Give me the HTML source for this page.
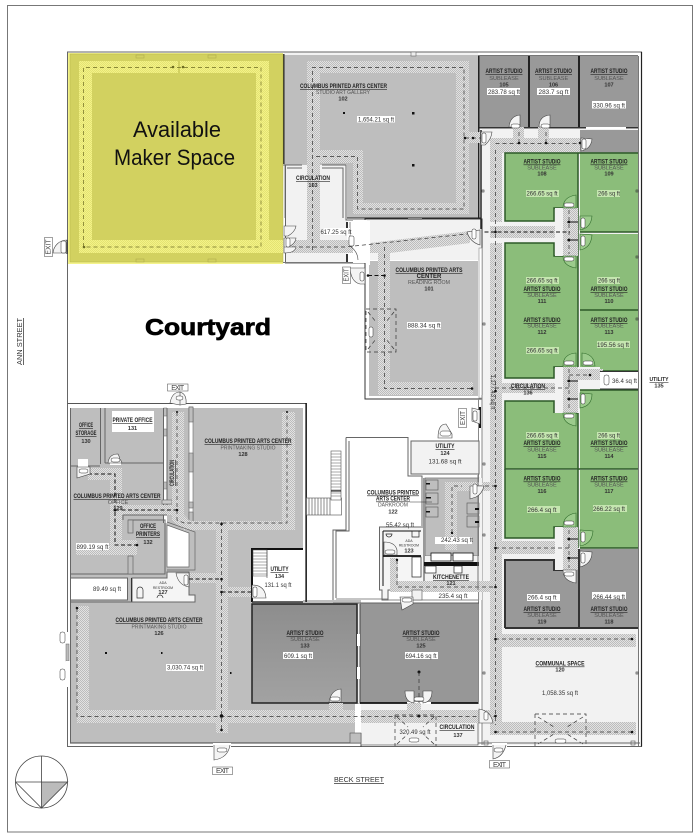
<!DOCTYPE html>
<html><head><meta charset="utf-8"><style>
html,body{margin:0;padding:0;background:#fff}
svg{display:block}
text{font-family:"Liberation Sans",sans-serif;fill:#222}
.t{font-size:6px;text-anchor:middle;text-decoration:underline;font-weight:bold;fill:#222}
.s{font-size:5.6px;text-anchor:middle;fill:#555}
.n{font-size:5.6px;text-anchor:middle;font-weight:bold;fill:#333}
.a{font-size:6.6px;text-anchor:middle;fill:#333}
.x{font-size:7px;text-anchor:middle;fill:#444}
.tiny{font-size:3.5px;text-anchor:middle;fill:#333}
.w{fill:none;stroke:#666;stroke-width:1}
.d{fill:none;stroke:#333;stroke-width:.7;stroke-dasharray:4 3}
.dd{fill:none;stroke:#111;stroke-width:1;stroke-dasharray:4 2.5}
.door{fill:#f4f4f4;stroke:#444;stroke-width:.6}
.doorg{fill:#9ccb8c;stroke:#2f6b2a;stroke-width:.6}
.lbl{fill:#fff;stroke:#444;stroke-width:.5}
</style></head><body>
<svg width="699" height="838" viewBox="0 0 699 838" xmlns="http://www.w3.org/2000/svg">
<defs>
<pattern id="h" width="2" height="2" patternUnits="userSpaceOnUse"><rect width="2" height="2" fill="#e2e2e2"/><rect width="1" height="1" fill="#bcbcbc"/><rect x="1" y="1" width="1" height="1" fill="#bcbcbc"/></pattern>
<pattern id="y" width="2" height="2" patternUnits="userSpaceOnUse"><rect width="2" height="2" fill="#f3f288"/><rect width="1" height="1" fill="#e4e372"/><rect x="1" y="1" width="1" height="1" fill="#e4e372"/></pattern>
<linearGradient id="gr" x1="0" y1="0" x2="0" y2="1"><stop offset="0" stop-color="#8d8d8d"/><stop offset="1" stop-color="#a2a2a2"/></linearGradient>
</defs>
<rect width="699" height="838" fill="#fff"/>
<rect x="7.500" y="5.500" width="685" height="826.500" fill="none" stroke="#777" stroke-width="1"/>

<!-- building envelope -->
<path d="M67.500 52H641.500V746.500H67.500Z" fill="#fff" stroke="#666" stroke-width="1"/>
<path d="M641.500 52V746.500" stroke="#222" stroke-width="1.200"/>

<!-- gallery 102 -->
<rect x="284" y="55" width="194" height="163" fill="#bebebe"/>
<path d="M307 61H469V214H353V163H307ZM320 73V150H363V203H456V73Z" fill="url(#h)" fill-rule="evenodd"/>
<rect x="284" y="52" width="194" height="3" fill="#f2f2f2"/>
<path d="M284 52H478" stroke="#666"/>
<rect x="411" y="52" width="5" height="4" fill="#eee" stroke="#666" stroke-width=".6"/>
<rect x="285" y="165" width="62" height="98" fill="#f2f2f2"/>
<rect x="307" y="163" width="13" height="90" fill="url(#h)"/>
<rect x="285" y="240" width="68" height="13" fill="url(#h)"/>
<path d="M346 165V220H365" class="w"/>
<path d="M283 165H302M322 165H346M287 168H302M322 168H343V218" class="w"/>
<path d="M285.500 165V263H365" class="w"/>
<path d="M283 262.500H365" stroke="#777" fill="none"/>
<rect x="283" y="54" width="1.500" height="110" fill="#222"/>
<path d="M312.500 250V67.500H464V209H357.500V156.500H315" class="d"/>
<g fill="#111"><rect x="343" y="112" width="2" height="2"/><rect x="412" y="112" width="2.500" height="2.500"/><rect x="412" y="164" width="2.500" height="2.500"/></g>

<!-- yellow maker space -->
<rect x="68" y="53" width="215" height="211" fill="#f4f38a"/>
<rect x="70" y="54" width="213" height="208" fill="#d2d160" stroke="#b5b44a" stroke-width=".5"/>
<path d="M79 61H269V253H79Z" fill="url(#y)"/>
<rect x="269" y="240" width="14" height="13" fill="url(#y)"/>
<rect x="92" y="73" width="164" height="167" fill="#d2d160"/>
<rect x="178" y="61" width="2" height="12" fill="#d2d160"/>
<rect x="136" y="55" width="8" height="3" fill="#d2d160" stroke="#a8a74a" stroke-width=".5"/>
<rect x="208" y="55" width="8" height="3" fill="#d2d160" stroke="#a8a74a" stroke-width=".5"/>
<rect x="136" y="259" width="8" height="3" fill="#d2d160" stroke="#a8a74a" stroke-width=".5"/>
<rect x="208" y="259" width="8" height="3" fill="#d2d160" stroke="#a8a74a" stroke-width=".5"/>
<path d="M83.500 247V67.500H261V247H83.500" fill="none" stroke="#6d6c22" stroke-width=".7" stroke-dasharray="4 3"/>
<circle cx="173" cy="67" r="1.300" fill="#6d6c22"/><circle cx="183" cy="67" r="1.300" fill="#6d6c22"/><circle cx="84" cy="247" r="1.300" fill="#6d6c22"/>
<text x="177" y="137" font-size="22" text-anchor="middle" textLength="88" lengthAdjust="spacingAndGlyphs" style="fill:#111">Available</text>
<text x="174.500" y="165" font-size="22" text-anchor="middle" textLength="121" lengthAdjust="spacingAndGlyphs" style="fill:#111">Maker Space</text>
<rect x="283" y="226" width="5" height="10" fill="#fff"/>

<!-- right corridor base -->
<rect x="482" y="129" width="156" height="616" fill="#f2f2f2"/>
<rect x="479" y="56" width="159" height="72" fill="#999"/>
<rect x="528" y="55" width="2" height="73" fill="#222"/><rect x="578" y="55" width="2" height="73" fill="#222"/>
<rect x="479" y="127" width="159" height="1.500" fill="#333"/>
<rect x="586" y="127" width="40" height="2" fill="#fff"/>
<rect x="580" y="130" width="58" height="24" fill="#999"/>
<rect x="478" y="55" width="1.500" height="170" fill="#222"/>
<rect x="478" y="55" width="160" height="1" fill="#777"/>
<rect x="638" y="56" width="1" height="690" fill="#777"/>

<!-- central walkway -->
<rect x="490" y="143" width="12" height="592" fill="url(#h)"/>
<rect x="490" y="138" width="90" height="15" fill="url(#h)"/>
<rect x="465" y="132" width="16" height="11" fill="url(#h)"/>
<rect x="488" y="222" width="90" height="21" fill="#f2f2f2"/>
<rect x="490" y="226" width="75" height="12" fill="url(#h)"/>
<rect x="490" y="383" width="75" height="10" fill="url(#h)"/>
<rect x="490" y="541" width="75" height="13" fill="url(#h)"/>
<rect x="490" y="634" width="146" height="13" fill="url(#h)"/>
<rect x="490" y="722" width="146" height="13" fill="url(#h)"/>
<rect x="513" y="127" width="11" height="16" fill="url(#h)"/>
<rect x="538" y="127" width="11" height="16" fill="url(#h)"/>

<!-- green rooms -->
<g fill="#8bbd7a">
<path d="M505 153H578V208H554V221H505Z"/>
<rect x="580" y="153" width="58" height="79"/>
<path d="M505 243H554V256H578V310H505Z"/>
<rect x="580" y="234" width="58" height="76"/>
<path d="M505 310H578V367H554V378H505Z"/>
<rect x="580" y="310" width="58" height="61"/>
<path d="M505 401H554V413H578V469H505Z"/>
<rect x="580" y="390" width="58" height="79"/>
<path d="M505 470H578V527H554V538H505Z"/>
<rect x="580" y="470" width="58" height="78"/>
</g>
<g fill="#999">
<path d="M505 560H554V570H578V628H505Z"/>
<rect x="580" y="549" width="58" height="79"/>
</g>
<g fill="none" stroke="#2c5a28" stroke-width="1.500">
<path d="M638 153H505V221H554V208H563"/>
<path d="M578 153V310M580 232H638M505 310V243H554V256H563"/>
<path d="M505 310V378H554V367H563M580 310H638M578 310V367"/>
<path d="M580 371H638"/>
<path d="M578 413H563M554 413V401H505V469H638M580 390H638M578 413V548"/>
<path d="M505 469V538H554V527H563M580 548H638"/>
</g>
<path d="M505 628V560H554V570H563M505 628H638M579 549V628" fill="none" stroke="#333" stroke-width="2"/>
<!-- notches -->
<rect x="555" y="208" width="23" height="48" fill="#f2f2f2"/><rect x="563" y="208" width="15" height="48" fill="url(#h)"/>
<rect x="555" y="367" width="45" height="13" fill="#f2f2f2"/><rect x="563" y="367" width="15" height="46" fill="url(#h)"/><rect x="578" y="369" width="25" height="11" fill="url(#h)"/>
<rect x="555" y="380" width="8" height="33" fill="#f2f2f2"/>
<rect x="555" y="527" width="8" height="43" fill="#f2f2f2"/><rect x="563" y="527" width="15" height="43" fill="url(#h)"/>
<rect x="555" y="208" width="8" height="48" fill="#f2f2f2"/>
<rect x="600" y="372" width="38" height="17" fill="#fff"/>
<path d="M600 371.500H638M600 389H638" stroke="#333"/>

<!-- walkway dashes right -->
<path d="M495.500 150V725" class="d"/>
<path d="M495.500 143.500H580" class="d"/>
<path d="M478 232H570" class="dd"/>
<path d="M495 388H570" class="d"/>
<path d="M495 548H570" class="d"/>
<path d="M495 639H632" class="d"/>
<path d="M495 732H632" class="d"/>
<path d="M569 210V254M569 369V410M569 530V568" class="d"/>
<path d="M519 132V143M546 132V143M465 138H481" class="d"/>
<path d="M569 375H590" class="d"/>
<path d="M567 222H578M567 240H578M567 381H578M567 399H578M567 539H578M567 558H578" stroke="#111" stroke-width="1"/>
<g fill="#111">
<circle cx="495.500" cy="232" r="1.300"/><circle cx="495.500" cy="391" r="1.300"/><circle cx="495.500" cy="548" r="1.300"/><circle cx="495.500" cy="639" r="1.300"/><circle cx="632" cy="639" r="1.300"/><circle cx="632" cy="732" r="1.300"/><circle cx="495.500" cy="732" r="1.300"/><circle cx="569" cy="222" r="1.300"/><circle cx="569" cy="240" r="1.300"/><circle cx="569" cy="381" r="1.300"/><circle cx="569" cy="399" r="1.300"/><circle cx="569" cy="539" r="1.300"/><circle cx="569" cy="558" r="1.300"/><circle cx="580" cy="143" r="1.300"/><circle cx="519" cy="143" r="1.300"/><circle cx="546" cy="143" r="1.300"/><circle cx="590" cy="375" r="1.300"/><circle cx="465" cy="138" r="1.300"/><circle cx="473" cy="138" r="1.300"/>
</g>
<g fill="none" stroke="#333" stroke-width=".6"><rect x="483" y="323" width="2" height="2"/><rect x="483" y="463" width="2" height="2"/><rect x="483" y="534" width="2" height="2"/><rect x="483" y="672" width="2" height="2"/><rect x="636" y="672" width="2" height="2"/><rect x="636" y="256" width="2" height="2"/><rect x="636" y="190" width="2" height="2"/><rect x="636" y="318" width="2" height="2"/><rect x="482" y="190" width="2" height="2"/></g>

<!-- reading room 101 -->
<rect x="365" y="219" width="117" height="180" fill="#fff" stroke="#333" stroke-width="1"/>
<rect x="366" y="220" width="115" height="40" fill="#f2f2f2"/>
<rect x="369" y="261" width="109" height="135" fill="#bebebe"/>
<rect x="366" y="221" width="4" height="44" fill="#fff"/>
<path d="M370 243L470 231V243L390 253H370Z" fill="url(#h)"/>
<rect x="378" y="246" width="12" height="149" fill="url(#h)"/>
<rect x="378" y="382" width="95" height="13" fill="url(#h)"/>
<rect x="353" y="220" width="14" height="43" fill="#fff"/>
<path d="M285 247H345L476 233" class="d"/>
<path d="M384.500 247V388.500H472" class="d"/>
<path d="M368 275.500H384" class="dd"/>
<circle cx="368" cy="275.500" r="1.300" fill="#111"/><circle cx="384.500" cy="275.500" r="1.300" fill="#111"/><circle cx="472" cy="388.500" r="1.300" fill="#111"/>
<path d="M366 309H396V352H366Z" class="d"/><path d="M368 312L376 322M394 312L386 322M368 349L376 339M394 349L386 339" class="d"/>
<rect x="479" y="248" width="3" height="150" fill="#fff" stroke="#888" stroke-width=".6"/>
<path d="M482 395V745M478.500 398V745" stroke="#888" stroke-width="1" fill="none"/>
<path d="M480 407V428" stroke="#111" stroke-width="2"/>
<path d="M481 130V229" stroke="#222" stroke-width="1.500"/>
<path d="M347 218H481" stroke="#222" stroke-width="1"/>
<rect x="408" y="218" width="14" height="2" fill="#888"/>
<rect x="346" y="222" width="2" height="8" fill="#333"/><rect x="346" y="254" width="2" height="8" fill="#333"/>

<!-- lower left block gray -->
<path d="M70 408H303V600H361V743H70Z" fill="#bebebe"/>
<path d="M67.500 403.500H306.500V602" fill="none" stroke="#555" stroke-width="1"/>
<path d="M70 743H361V747" fill="none" stroke="#444" stroke-width="1"/>
<path d="M306 403V602" stroke="#111" stroke-width="1.200"/>
<path d="M70.500 408V743" stroke="#666" stroke-width="1"/>
<!-- office walls -->
<path d="M100.500 408V464M105 408V463M105 463H164M71 466H100" class="w"/>
<rect x="163" y="408" width="4" height="115" fill="#fff"/>
<path d="M163.500 408H167V416H163.500ZM163.500 429H167V436H163.500ZM163.500 482H167V489H163.500ZM163.500 500H167V507H163.500Z" fill="#bebebe" stroke="#666" stroke-width=".5"/>
<path d="M163.500 408V523M167 408V507" class="w" stroke-width=".6"/>
<rect x="189" y="407" width="4" height="117" fill="#fff" stroke="#666" stroke-width=".6"/>
<rect x="189" y="407" width="4" height="15" fill="#bebebe" stroke="#555" stroke-width=".5"/>
<rect x="189" y="453" width="4" height="19" fill="#bebebe" stroke="#555" stroke-width=".5"/>
<rect x="189" y="502" width="4" height="6" fill="#bebebe" stroke="#555" stroke-width=".5"/>
<rect x="189" y="512" width="4" height="14" fill="#bebebe" stroke="#555" stroke-width=".5"/>
<rect x="162" y="500" width="10" height="4" fill="#ccc" stroke="#555" stroke-width=".5"/>
<rect x="78" y="459" width="10" height="9" fill="#fff"/>
<rect x="112" y="411" width="42" height="21" fill="#fff"/>
<rect x="110" y="458" width="11" height="7" fill="#fff"/>
<rect x="172" y="412" width="12" height="106" fill="url(#h)"/>
<rect x="88" y="468" width="34" height="12" fill="url(#h)"/>
<rect x="110" y="470" width="12" height="85" fill="url(#h)"/>
<rect x="110" y="505" width="68" height="10" fill="url(#h)"/>
<rect x="76" y="545" width="61" height="10" fill="url(#h)"/>
<rect x="110" y="540" width="27" height="15" fill="url(#h)"/>
<rect x="282" y="412" width="13" height="118" fill="url(#h)"/>
<path d="M172 515H184L190 521H295V530H184L172 520Z" fill="url(#h)"/>
<rect x="216" y="522" width="12" height="211" fill="url(#h)"/>
<rect x="77" y="606" width="12" height="117" fill="url(#h)"/>
<rect x="77" y="710" width="413" height="13" fill="url(#h)"/>
<rect x="190" y="573" width="28" height="10" fill="url(#h)"/>
<rect x="228" y="587" width="24" height="10" fill="url(#h)"/>
<path d="M123 515H167M123 515V520M128 520H165V574H71" class="w"/>
<rect x="128" y="520" width="5" height="13" fill="#bebebe" stroke="#666" stroke-width=".7"/>
<rect x="128" y="556" width="5" height="18" fill="#bebebe" stroke="#666" stroke-width=".7"/>
<path d="M167 525L189 533V567H167Z" fill="#fff" stroke="#666" stroke-width=".7"/>
<path d="M167 522L195 532V570H167" fill="none" stroke="#666" stroke-width=".7"/>
<path d="M132 578H167V572H189V595H195V602H132Z" fill="#f5f5f5" stroke="#666"/>
<rect x="70.500" y="578" width="57" height="22" fill="#fff" stroke="#666"/>
<rect x="131" y="578" width="1" height="24" fill="#333"/>
<path d="M70 602H195" stroke="#666"/>
<path d="M137 590a3 3 0 0 1 6 0V598H137Z M157 598a3 3 0 0 1 6 0" fill="none" stroke="#333" stroke-width=".7"/>
<!-- utility 134 left -->
<path d="M252 549H303V602H252Z" fill="#fff"/>
<path d="M252 602V549H303" fill="none" stroke="#111" stroke-width="2"/>
<path d="M252 602H303" stroke="#333" stroke-width="1.500"/>
<rect x="253" y="550" width="14" height="26" fill="#fff" stroke="#555" stroke-width=".5"/>
<path d="M253 553h14M253 556h14M253 559h14M253 562h14M253 565h14M253 568h14M253 571h14M253 574h14" stroke="#555" stroke-width=".6"/>
<path d="M267 550V578" stroke="#444" stroke-width=".6"/>
<!-- studios 133/125 -->
<rect x="252" y="604" width="105" height="99" fill="url(#gr)" stroke="#222" stroke-width="1.500"/>
<rect x="360" y="603" width="118" height="100" fill="#979797"/>
<path d="M358.500 604V703" stroke="#eee" stroke-width="2.500"/>
<path d="M357.500 604V703M360 604V703" stroke="#333" stroke-width=".8"/>
<rect x="357" y="634" width="3" height="12" fill="#fff"/>
<rect x="357" y="667" width="3" height="12" fill="#fff"/>
<path d="M360 703H478" stroke="#111" stroke-width="1.800"/>
<path d="M360 603H479" stroke="#555"/>
<rect x="407" y="702" width="24" height="2" fill="#fff"/>
<rect x="361" y="704" width="119" height="41" fill="#f2f2f2"/>
<rect x="361" y="710" width="129" height="13" fill="url(#h)"/>
<rect x="329" y="703" width="14" height="8" fill="url(#h)"/><rect x="407" y="703" width="14" height="7" fill="url(#h)"/>
<path d="M361 733V745H478V723" fill="none" stroke="#666" stroke-width=".8"/>
<rect x="355" y="704" width="6" height="29" fill="#fff"/>
<rect x="350" y="733" width="11" height="10" fill="#bebebe" stroke="#555" stroke-width=".6"/>
<path d="M77 608V716.500H495" class="d"/>
<path d="M221.500 522V730" class="d"/>
<path d="M177 412V520L184 523H287V412" class="d"/>
<path d="M88 474H115V545H137" class="dd"/>
<path d="M115 510H177" class="dd"/>
<path d="M189 579H221.500" class="dd"/>
<path d="M221.500 592H254" class="dd"/>
<g fill="#111"><circle cx="77" cy="608" r="1.300"/><circle cx="221.500" cy="716" r="1.800"/><circle cx="221.500" cy="730" r="1.300"/><circle cx="221.500" cy="592" r="1.300"/><circle cx="221.500" cy="579" r="1.300"/><circle cx="221.500" cy="524" r="1.300"/><circle cx="115" cy="510" r="1.500"/><circle cx="177" cy="510" r="1.300"/><circle cx="88" cy="474" r="1"/><circle cx="137" cy="545" r="1.300"/><circle cx="419" cy="716" r="1.500"/><circle cx="419" cy="672" r="1.500"/><circle cx="495.500" cy="716" r="1.300"/><circle cx="177" cy="412" r="1"/><circle cx="287" cy="412" r="1"/><rect x="105" y="652" width="2" height="2"/><rect x="161" y="652" width="1.500" height="2"/><rect x="230" y="672" width="1.500" height="2"/></g>
<path d="M419 672V703" class="d"/>
<path d="M395 715H436V746M395 715V746M397 717L408 727M434 717L423 727M397 744L408 734M434 744L423 734" class="d"/>
<path d="M535 714H586V746M535 714V746M538 717L554 727M583 717L567 727M538 744L554 734M583 744L567 734" class="d"/>

<!-- middle zone -->
<path d="M346 437.500H408V476H422V526M346 437.500V530H333V600M349 441V531H336V598" class="w"/>
<rect x="306.500" y="498" width="35" height="17" fill="#fff" stroke="#666" stroke-width=".7"/>
<path d="M309 498v17M312 498v17M315 498v17M318 498v17M321 498v17M324 498v17M327 498v17M330 498v17" stroke="#444" stroke-width=".6"/>
<rect x="331" y="451" width="10" height="49" fill="#fff" stroke="#555" stroke-width=".6"/>
<path d="M331 454h10M331 457h10M331 460h10M331 463h10M331 466h10M331 469h10M331 472h10M331 475h10M331 478h10M331 481h10M331 484h10M331 487h10M331 490h10M331 493h10M331 496h10" stroke="#555" stroke-width=".6"/>
<path d="M331 491h10" stroke="#111" stroke-width="1"/>
<rect x="411" y="441" width="68" height="33" fill="#f2f2f2" stroke="#666"/>
<rect x="425" y="478" width="54" height="78" fill="#bebebe" stroke="#666" stroke-width=".7"/>
<rect x="425" y="556" width="54" height="34" fill="#f2f2f2"/>
<rect x="445" y="482" width="12" height="68" fill="url(#h)"/>
<rect x="445" y="482" width="45" height="9" fill="url(#h)"/>
<rect x="479" y="478" width="3" height="122" fill="#f2f2f2"/>
<path d="M379.500 527H424V590H388V600H382V590H379.500Z" fill="#f5f5f5" stroke="#666"/>
<path d="M383 531H421M383 531V586" stroke="#111" stroke-width="1" fill="none"/>
<path d="M383 556H421" stroke="#111" stroke-width="1.800"/>
<rect x="423" y="478" width="2" height="112" fill="#999"/>
<rect x="390" y="558" width="8" height="34" fill="url(#h)"/>
<rect x="390" y="581" width="100" height="11" fill="url(#h)"/>
<rect x="412" y="557" width="9" height="20" fill="#fff" stroke="#222" stroke-width=".7"/>
<rect x="431" y="553" width="20" height="8" fill="#fff" stroke="#111" stroke-width=".8"/>
<rect x="453" y="553" width="20" height="8" fill="#fff" stroke="#111" stroke-width=".8"/>
<rect x="424" y="562" width="55" height="4" fill="#111"/>
<rect x="425" y="566" width="11" height="7" fill="#fff" stroke="#222" stroke-width=".7"/>
<rect x="454" y="566" width="8" height="7" fill="#fff" stroke="#222" stroke-width=".7"/>
<rect x="426" y="480" width="12" height="10" fill="#bebebe" stroke="#555" stroke-width=".6"/>
<rect x="426" y="493" width="12" height="11" fill="#bebebe" stroke="#555" stroke-width=".6"/>
<rect x="426" y="507" width="12" height="10" fill="#bebebe" stroke="#555" stroke-width=".6"/>
<rect x="467" y="503" width="12" height="11" fill="#bebebe" stroke="#555" stroke-width=".6"/>
<rect x="467" y="516" width="12" height="11" fill="#bebebe" stroke="#555" stroke-width=".6"/>
<path d="M452 540V486H462" class="d"/>
<path d="M397 560V587H495" class="d"/>
<path d="M478 486H495" class="d"/>
<path d="M478 475V590" stroke="#777"/>
<circle cx="397" cy="560" r="1.200" fill="#111"/><circle cx="452" cy="533" r="1.200" fill="#111"/><circle cx="495.500" cy="486" r="1.300" fill="#111"/><circle cx="495.500" cy="587" r="1.300" fill="#111"/>
<g fill="#111"><rect x="426" y="483" width="4" height="1.500"/><rect x="426" y="497" width="5" height="1.500"/><rect x="426" y="511" width="4" height="1.500"/><rect x="475" y="508" width="4" height="2"/><rect x="475" y="521" width="4" height="2"/></g>
<path d="M386 534a3 3 0 1 0 6 0Z M412 531h7v6h-7Z" fill="none" stroke="#222" stroke-width=".7"/>
<path d="M336 599H388M388 600H478M333 603H478" stroke="#666" stroke-width=".8"/>
<rect x="412" y="590" width="10" height="10" fill="#f2f2f2" stroke="#666" stroke-width=".7"/>
<rect x="388" y="590" width="24" height="9" fill="none"/>

<!-- doors -->
<g>
<path d="M53 253A14 14 0 0 1 67 240V253Z" class="door"/>
<path d="M67 240V254" stroke="#222"/>
<path d="M284 226H296Q295 232 288 236H284Z" class="door"/>
<path d="M284 238H296Q295 245 287 247H284ZM284 247H296Q295 253 284 253Z" class="door"/>
<path d="M350 238V222M350 246Q358 252 358 260" fill="none" stroke="#444" stroke-width=".6"/>
<path d="M350 268H365V284H360Q351 282 350 268Z" class="door"/>
<path d="M467 232Q470 242 480 245V230Z" class="door"/>
<path d="M509 127Q510 116 520 115V127Z" class="door"/><path d="M539 127Q539 116 550 115V127Z" class="door"/>
<path d="M581 138V151Q591 149 592 139Z" class="door"/>
<path d="M481 132V145H485Q491 140 492 132Z" class="door"/>
<path d="M563 208Q563 197 576 195V208Z" class="doorg"/><path d="M580 216V230Q591 228 592 216Z" class="doorg"/>
<path d="M580 234V250Q591 248 592 235Z" class="doorg"/><path d="M563 256Q563 266 576 268V256Z" class="doorg"/>
<path d="M563 366Q563 354 576 353V366Z" class="doorg"/><path d="M582 366V353Q594 354 595 366Z" class="doorg"/>
<path d="M580 393V408Q592 406 592 394Z" class="doorg"/><path d="M563 413Q563 424 576 426V413Z" class="doorg"/>
<path d="M563 527Q563 515 576 513V527Z" class="doorg"/><path d="M580 530V546Q592 544 593 531Z" class="doorg"/>
<path d="M580 551V567Q592 564 592 552Z" class="door"/><path d="M563 570Q563 581 576 583V570Z" class="door"/>
<path d="M438 438Q438 424 446 424L452 434V438Z" class="door"/>
<path d="M252 585Q265 585 266 598H252Z" class="door"/>
<path d="M180 405V392Q172 392 170 403Z M180 405V392Q187 394 186 404Z" class="door"/>
<path d="M479 709V723H493Q491 711 479 709Z" class="door"/>
<path d="M405 690Q405 701 414 702V690Z M432 690Q432 701 423 702V690Z" class="door" transform="translate(0,1)"/>
<path d="M329 702Q331 690 341 689V702Z" class="door"/>
<path d="M400 597H413V604L402 610Z" class="door"/>
<path d="M470 486V499L476 497Q482 494 484 486Z" class="door"/>
<path d="M384 555V542Q395 542 397 550V555Z" class="door"/>
<path d="M77 467V478L90 474V467Z" class="door"/>
<path d="M108 463Q109 454 118 454L122 463Z" class="door"/>
<path d="M189 573V587Q178 585 176 573Z" class="door"/>
<path d="M472 408V421L480 424V410Z" class="door"/>
</g>
<rect x="66" y="632" width="4" height="12" fill="#fff"/>
<rect x="66" y="644" width="3" height="17" fill="#bbb" stroke="#666" stroke-width=".5"/>
<rect x="66" y="661" width="4" height="26" fill="#fff"/>
<path d="M478 743H640" stroke="#666" fill="none"/>
<rect x="484" y="741" width="4" height="4" fill="none" stroke="#555" stroke-width=".6"/>
<rect x="631" y="741" width="4" height="4" fill="none" stroke="#555" stroke-width=".6"/>
<rect x="213" y="743" width="18" height="5" fill="#fff"/>
<rect x="492" y="743" width="15" height="5" fill="#fff"/>
<path d="M214 745V760Q228 758 230 745" class="door"/>
<path d="M493 745V759Q503 757 506 745" class="door"/>
<g fill="#fff" stroke="#333" stroke-width=".5">
<rect x="61" y="241" width="5" height="12" rx="1.500"/><rect x="286" y="238" width="4" height="9" rx="1.500"/><rect x="349" y="236" width="5" height="10" rx="1.500"/><rect x="360" y="272" width="4" height="9" rx="1.500"/><rect x="472" y="229" width="4" height="10" rx="1.500"/><rect x="511" y="124" width="9" height="4" rx="2"/><rect x="541" y="124" width="9" height="4" rx="2"/><rect x="482" y="133" width="4" height="10" rx="1.500"/><rect x="582" y="139" width="4" height="10" rx="1.500"/><rect x="564" y="203" width="10" height="4" rx="2"/><rect x="581" y="218" width="4" height="10" rx="1.500"/><rect x="581" y="236" width="4" height="10" rx="1.500"/><rect x="564" y="257" width="10" height="4" rx="2"/><rect x="564" y="361" width="10" height="4" rx="2"/><rect x="583" y="361" width="10" height="4" rx="2"/><rect x="581" y="394" width="4" height="10" rx="1.500"/><rect x="564" y="414" width="10" height="4" rx="2"/><rect x="564" y="521" width="10" height="4" rx="2"/><rect x="581" y="532" width="4" height="10" rx="1.500"/><rect x="581" y="553" width="4" height="10" rx="1.500"/><rect x="564" y="572" width="10" height="4" rx="2"/><rect x="604" y="375" width="5" height="10" rx="2"/><rect x="440" y="431" width="11" height="5" rx="2.500"/><rect x="473" y="484" width="4" height="10" rx="1.500"/><rect x="385" y="550" width="10" height="4" rx="2"/><rect x="79" y="469" width="9" height="4" rx="2"/><rect x="111" y="458" width="9" height="4" rx="2"/><rect x="176" y="396" width="7" height="4" rx="2"/><rect x="184" y="575" width="4" height="10" rx="1.500"/><rect x="253" y="587" width="4" height="10" rx="1.500"/><rect x="60" y="632" width="5" height="11" rx="2"/><rect x="60" y="669" width="5" height="11" rx="2"/><rect x="217" y="748" width="10" height="4" rx="2"/><rect x="330" y="697" width="10" height="4" rx="2"/><rect x="414" y="697" width="10" height="4" rx="2"/><rect x="402" y="598" width="10" height="4" rx="2"/><rect x="409" y="738" width="10" height="4" rx="2"/><rect x="555" y="739" width="11" height="4" rx="2"/><rect x="494" y="748" width="9" height="4" rx="2"/><rect x="484" y="712" width="4" height="8" rx="1"/><rect x="473" y="411" width="4" height="10" rx="1.500"/><rect x="369" y="327" width="4" height="10" rx="1.500"/></g>

<!-- EXIT boxes -->
<rect x="44.500" y="237.500" width="8" height="19" class="lbl"/><rect x="342.500" y="267" width="8" height="16.500" class="lbl"/><rect x="167.500" y="384" width="20.500" height="7" class="lbl"/><rect x="212.500" y="767" width="20" height="7.500" class="lbl"/><rect x="489.500" y="760.500" width="20" height="7.500" class="lbl"/><rect x="458.500" y="408.500" width="8" height="19" class="lbl"/>
<text class="x" transform="translate(50.500,247) rotate(-90)" textLength="15" lengthAdjust="spacingAndGlyphs">EXIT</text>
<text class="x" transform="translate(348.500,275) rotate(-90)" textLength="13" lengthAdjust="spacingAndGlyphs">EXIT</text>
<text class="x" x="177.700" y="390" textLength="13">EXIT</text>
<text class="x" x="222.500" y="773" textLength="13">EXIT</text>
<text class="x" x="499.500" y="767" textLength="13">EXIT</text>
<text class="x" transform="translate(465,418) rotate(-90)" textLength="14" lengthAdjust="spacingAndGlyphs">EXIT</text>

<!-- streets -->
<text transform="translate(22,365) rotate(-90)" font-size="7.500" textLength="47" lengthAdjust="spacingAndGlyphs" style="fill:#333;text-decoration:underline">ANN STREET</text>
<text x="334" y="782" font-size="7.500" textLength="50" lengthAdjust="spacingAndGlyphs" style="fill:#333;text-decoration:underline">BECK STREET</text>
<text x="208" y="335" font-size="23.500" font-weight="bold" text-anchor="middle" textLength="126" lengthAdjust="spacingAndGlyphs" style="fill:#000;stroke:#000;stroke-width:.7">Courtyard</text>

<!-- compass -->
<circle cx="41.500" cy="782" r="26" fill="#fff" stroke="#444" stroke-width=".8"/>
<path d="M41.500 782H67.500L41.500 808Z" fill="#bbb"/>
<path d="M41.500 756V808M15.500 782H67.500L41.500 808L15.500 782" fill="none" stroke="#444" stroke-width=".8"/>

<!-- area label backgrounds -->
<g fill="#fff">
<rect x="357" y="116" width="38" height="6.500"/><rect x="487" y="88" width="33" height="7"/><rect x="537" y="88" width="33" height="7"/><rect x="592" y="101" width="34" height="7.500"/><rect x="407" y="322" width="34" height="7"/><rect x="76" y="543" width="33" height="7"/><rect x="166" y="664" width="38" height="7"/><rect x="283" y="652" width="30" height="7"/><rect x="405" y="652" width="33" height="7"/><rect x="527" y="594" width="33" height="7"/><rect x="592" y="592" width="34" height="7"/><rect x="435" y="537" width="37" height="7"/><rect x="324" y="228" width="26" height="7"/>
</g>
<g fill="#c5e6b0">
<rect x="526" y="190" width="33" height="7"/><rect x="597" y="190" width="23" height="7"/><rect x="526" y="277" width="33" height="7"/><rect x="597" y="277" width="23" height="7"/><rect x="526" y="347" width="33" height="7"/><rect x="597" y="341" width="33" height="7"/><rect x="526" y="432" width="33" height="7"/><rect x="597" y="432" width="23" height="7"/><rect x="527" y="506" width="33" height="7"/><rect x="593" y="505" width="34" height="7"/>
</g>

<!-- labels -->
<text class="t" x="343.500" y="88" textLength="87" lengthAdjust="spacingAndGlyphs">COLUMBUS PRINTED ARTS CENTER</text>
<text class="s" x="343" y="94" textLength="54" lengthAdjust="spacingAndGlyphs">STUDIO ART GALLERY</text>
<text class="n" x="343" y="100.500">102</text>
<text class="a" x="376" y="121.500" textLength="36" lengthAdjust="spacingAndGlyphs">1,654.21 sq ft</text>

<text class="t" x="313" y="180" textLength="34" lengthAdjust="spacingAndGlyphs">CIRCULATION</text>
<text class="n" x="313" y="187">103</text>
<text class="a" x="336" y="234" textLength="31" lengthAdjust="spacingAndGlyphs">617.25 sq ft</text>

<text class="t" x="429" y="272" textLength="67" lengthAdjust="spacingAndGlyphs">COLUMBUS PRINTED ARTS</text>
<text class="t" x="429" y="278">CENTER</text>
<text class="s" x="429" y="284" textLength="42" lengthAdjust="spacingAndGlyphs">READING ROOM</text>
<text class="n" x="429" y="290.500">101</text>
<text class="a" x="424" y="327.500" textLength="33" lengthAdjust="spacingAndGlyphs">888.34 sq ft</text>

<text class="t" x="504" y="73" textLength="37" lengthAdjust="spacingAndGlyphs">ARTIST STUDIO</text><text class="s" x="504" y="80">SUBLEASE</text><text class="n" x="504" y="86.500">105</text>
<text class="a" x="504" y="94" textLength="32" lengthAdjust="spacingAndGlyphs">283.78 sq ft</text>
<text class="t" x="553.500" y="73" textLength="37" lengthAdjust="spacingAndGlyphs">ARTIST STUDIO</text><text class="s" x="553.500" y="80">SUBLEASE</text><text class="n" x="553.500" y="86.500">106</text>
<text class="a" x="553.500" y="94" textLength="30" lengthAdjust="spacingAndGlyphs">283.7 sq ft</text>
<text class="t" x="609" y="73" textLength="37" lengthAdjust="spacingAndGlyphs">ARTIST STUDIO</text><text class="s" x="609" y="80">SUBLEASE</text><text class="n" x="609" y="86.500">107</text>
<text class="a" x="609" y="107.500" textLength="32" lengthAdjust="spacingAndGlyphs">330.96 sq ft</text>

<text class="t" x="542" y="163.500" textLength="37" lengthAdjust="spacingAndGlyphs">ARTIST STUDIO</text><text class="s" x="542" y="169.500">SUBLEASE</text><text class="n" x="542" y="175.500">108</text>
<text class="a" x="542" y="195.500" textLength="31" lengthAdjust="spacingAndGlyphs">266.65 sq ft</text>
<text class="t" x="609" y="163.500" textLength="37" lengthAdjust="spacingAndGlyphs">ARTIST STUDIO</text><text class="s" x="609" y="169.500">SUBLEASE</text><text class="n" x="609" y="175.500">109</text>
<text class="a" x="609" y="195.500" textLength="22" lengthAdjust="spacingAndGlyphs">266 sq ft</text>

<text class="a" x="542" y="282.500" textLength="31" lengthAdjust="spacingAndGlyphs">266.65 sq ft</text><text class="t" x="542" y="291" textLength="37" lengthAdjust="spacingAndGlyphs">ARTIST STUDIO</text><text class="s" x="542" y="297">SUBLEASE</text><text class="n" x="542" y="303">111</text>
<text class="a" x="609" y="282.500" textLength="22" lengthAdjust="spacingAndGlyphs">266 sq ft</text><text class="t" x="609" y="291" textLength="37" lengthAdjust="spacingAndGlyphs">ARTIST STUDIO</text><text class="s" x="609" y="297">SUBLEASE</text><text class="n" x="609" y="303">110</text>

<text class="t" x="542" y="322" textLength="37" lengthAdjust="spacingAndGlyphs">ARTIST STUDIO</text><text class="s" x="542" y="327.500">SUBLEASE</text><text class="n" x="542" y="334">112</text>
<text class="a" x="542" y="352.500" textLength="31" lengthAdjust="spacingAndGlyphs">266.65 sq ft</text>
<text class="t" x="609" y="322" textLength="37" lengthAdjust="spacingAndGlyphs">ARTIST STUDIO</text><text class="s" x="609" y="327.500">SUBLEASE</text><text class="n" x="609" y="334">113</text>
<text class="a" x="613" y="347" textLength="32" lengthAdjust="spacingAndGlyphs">195.56 sq ft</text>

<text class="t" x="528" y="388" textLength="34" lengthAdjust="spacingAndGlyphs">CIRCULATION</text><text class="n" x="528" y="394.500">136</text>
<text class="a" x="624.500" y="383" textLength="25" lengthAdjust="spacingAndGlyphs">36.4 sq ft</text>
<text class="t" x="659" y="381" style="font-size:5.500px" textLength="19" lengthAdjust="spacingAndGlyphs">UTILITY</text><text class="n" x="659" y="387.500">135</text>
<text class="a" transform="translate(491,392) rotate(90)" textLength="35" lengthAdjust="spacingAndGlyphs">1,177.43 sq ft</text>

<text class="a" x="542" y="437.500" textLength="31" lengthAdjust="spacingAndGlyphs">266.65 sq ft</text><text class="t" x="542" y="445" textLength="37" lengthAdjust="spacingAndGlyphs">ARTIST STUDIO</text><text class="s" x="542" y="451.500">SUBLEASE</text><text class="n" x="542" y="458">115</text>
<text class="a" x="609" y="437.500" textLength="22" lengthAdjust="spacingAndGlyphs">266 sq ft</text><text class="t" x="609" y="445" textLength="37" lengthAdjust="spacingAndGlyphs">ARTIST STUDIO</text><text class="s" x="609" y="451.500">SUBLEASE</text><text class="n" x="609" y="458">114</text>

<text class="t" x="542" y="480.500" textLength="37" lengthAdjust="spacingAndGlyphs">ARTIST STUDIO</text><text class="s" x="542" y="486.500">SUBLEASE</text><text class="n" x="542" y="493">116</text>
<text class="a" x="542" y="512" textLength="29" lengthAdjust="spacingAndGlyphs">266.4 sq ft</text>
<text class="t" x="609" y="480.500" textLength="37" lengthAdjust="spacingAndGlyphs">ARTIST STUDIO</text><text class="s" x="609" y="486.500">SUBLEASE</text><text class="n" x="609" y="493">117</text>
<text class="a" x="609" y="511" textLength="32" lengthAdjust="spacingAndGlyphs">266.22 sq ft</text>

<text class="a" x="542" y="599.500" textLength="29" lengthAdjust="spacingAndGlyphs">266.4 sq ft</text><text class="t" x="542" y="611" textLength="37" lengthAdjust="spacingAndGlyphs">ARTIST STUDIO</text><text class="s" x="542" y="617">SUBLEASE</text><text class="n" x="542" y="623.500">119</text>
<text class="a" x="609" y="599" textLength="32" lengthAdjust="spacingAndGlyphs">266.44 sq ft</text><text class="t" x="609" y="611" textLength="37" lengthAdjust="spacingAndGlyphs">ARTIST STUDIO</text><text class="s" x="609" y="617">SUBLEASE</text><text class="n" x="609" y="623.500">118</text>

<text class="t" x="560" y="665.500" textLength="49" lengthAdjust="spacingAndGlyphs">COMMUNAL SPACE</text><text class="n" x="560" y="671.500">120</text>
<text class="a" x="560" y="695" textLength="36" lengthAdjust="spacingAndGlyphs">1,058.35 sq ft</text>

<text class="t" x="421" y="635" textLength="37" lengthAdjust="spacingAndGlyphs">ARTIST STUDIO</text><text class="s" x="421" y="641">SUBLEASE</text><text class="n" x="421" y="647.500">125</text>
<text class="a" x="421" y="658" textLength="31" lengthAdjust="spacingAndGlyphs">694.16 sq ft</text>
<text class="t" x="305" y="635" textLength="37" lengthAdjust="spacingAndGlyphs">ARTIST STUDIO</text><text class="s" x="305" y="641">SUBLEASE</text><text class="n" x="305" y="647.500">133</text>
<text class="a" x="298" y="658" textLength="28" lengthAdjust="spacingAndGlyphs">609.1 sq ft</text>

<text class="t" x="159" y="622" textLength="87" lengthAdjust="spacingAndGlyphs">COLUMBUS PRINTED ARTS CENTER</text><text class="s" x="159" y="628.500" textLength="55" lengthAdjust="spacingAndGlyphs">PRINTMAKING STUDIO</text><text class="n" x="159" y="635">126</text>
<text class="a" x="185" y="669.500" textLength="36" lengthAdjust="spacingAndGlyphs">3,030.74 sq ft</text>

<text class="t" x="457" y="729" textLength="35" lengthAdjust="spacingAndGlyphs">CIRCULATION</text><text class="n" x="458" y="737">137</text>
<text class="a" x="415" y="734" textLength="31" lengthAdjust="spacingAndGlyphs">320.49 sq ft</text>

<text class="t" x="248" y="443" textLength="87" lengthAdjust="spacingAndGlyphs">COLUMBUS PRINTED ARTS CENTER</text><text class="s" x="248" y="449.500" textLength="55" lengthAdjust="spacingAndGlyphs">PRINTMAKING STUDIO</text><text class="n" x="243" y="456">128</text>

<text class="t" x="132.500" y="422" textLength="40" lengthAdjust="spacingAndGlyphs">PRIVATE OFFICE</text><text class="n" x="132.500" y="430">131</text>
<text class="t" x="86" y="427" textLength="14" lengthAdjust="spacingAndGlyphs">OFFICE</text><text class="t" x="86" y="435" textLength="21" lengthAdjust="spacingAndGlyphs">STORAGE</text><text class="n" x="86" y="443">130</text>
<text class="t" transform="translate(174,473) rotate(-90)" textLength="26" lengthAdjust="spacingAndGlyphs">CIRCULATION</text>

<text class="t" x="117" y="498" textLength="87" lengthAdjust="spacingAndGlyphs">COLUMBUS PRINTED ARTS CENTER</text><text class="s" x="118" y="504">OFFICE</text><text class="n" x="118" y="510">129</text>
<text class="a" x="92.500" y="549" textLength="32" lengthAdjust="spacingAndGlyphs">899.19 sq ft</text>
<text class="t" x="148" y="528" textLength="16" lengthAdjust="spacingAndGlyphs">OFFICE</text><text class="t" x="148" y="536" textLength="24" lengthAdjust="spacingAndGlyphs">PRINTERS</text><text class="n" x="148" y="544">132</text>

<text class="a" x="107" y="591" textLength="28" lengthAdjust="spacingAndGlyphs">89.49 sq ft</text>
<text class="tiny" x="163" y="584">ADA</text><text class="tiny" x="163" y="589">RESTROOM</text><text class="n" x="163" y="594">127</text>
<text class="t" x="279.500" y="571" textLength="18" lengthAdjust="spacingAndGlyphs">UTILITY</text><text class="n" x="279.500" y="578">134</text>
<text class="a" x="278" y="587" textLength="27" lengthAdjust="spacingAndGlyphs">131.1 sq ft</text>

<text class="t" x="445" y="448" textLength="19" lengthAdjust="spacingAndGlyphs">UTILITY</text><text class="n" x="445" y="455">124</text>
<text class="a" x="445" y="463.500" textLength="33" lengthAdjust="spacingAndGlyphs">131.68 sq ft</text>
<text class="t" x="393" y="494.500" textLength="52" lengthAdjust="spacingAndGlyphs">COLUMBUS PRINTED</text><text class="t" x="393" y="500.500" textLength="34" lengthAdjust="spacingAndGlyphs">ARTS CENTER</text><text class="s" x="393" y="506.500" textLength="30" lengthAdjust="spacingAndGlyphs">DARKROOM</text><text class="n" x="393" y="513.500">122</text>
<path d="M410 502H432" stroke="#333" stroke-width=".5"/>
<text class="a" x="400" y="527" textLength="28" lengthAdjust="spacingAndGlyphs">55.42 sq ft</text>
<text class="tiny" x="409" y="542">ADA</text><text class="tiny" x="409" y="546.500">RESTROOM</text><text class="n" x="409" y="552.500">123</text>
<text class="a" x="457" y="542" textLength="32" lengthAdjust="spacingAndGlyphs">242.43 sq ft</text>
<text class="t" x="451" y="579" textLength="36" lengthAdjust="spacingAndGlyphs">KITCHENETTE</text><text class="n" x="451" y="585">121</text>
<text class="a" x="453" y="598" textLength="29" lengthAdjust="spacingAndGlyphs">235.4 sq ft</text>
</svg>
</body></html>
